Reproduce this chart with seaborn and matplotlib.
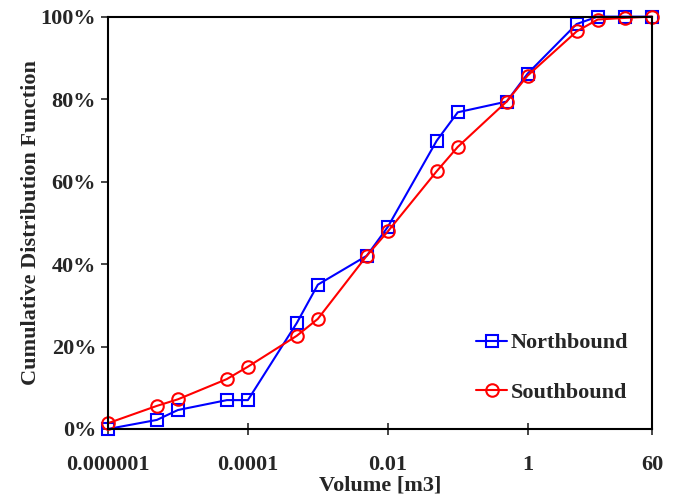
import matplotlib
matplotlib.use("Agg")
import matplotlib.pyplot as plt
import matplotlib.ticker as mticker
import seaborn as sns
import pandas as pd

# volume bins [m3] and cumulative shares (percent)
volume = [1e-6, 5e-6, 1e-5, 5e-5, 1e-4, 5e-4, 1e-3, 5e-3, 0.01, 0.05, 0.1, 0.5, 1, 5, 10, 25, 60]
cdf_north = [0.0, 2.2, 4.6, 7.0, 7.0, 25.7, 35.0, 42.0, 49.0, 69.9, 76.8, 79.4, 86.2, 98.2, 100, 100, 100]
cdf_south = [1.4, 5.6, 7.2, 12.1, 15.1, 22.6, 26.7, 42.0, 47.9, 62.5, 68.4, 79.4, 85.7, 96.4, 99.3, 99.7, 100]

xticks = [1e-6, 1e-4, 1e-2, 1, 60]
xtick_labels = ['0.000001', '0.0001', '0.01', '1', '60']

df = pd.DataFrame({'volume': volume,
                   'Northbound': [v / 100 for v in cdf_north],
                   'Southbound': [v / 100 for v in cdf_south]})

sns.set_style('white')
plt.rcParams['font.family'] = ['Liberation Serif', 'DejaVu Serif']
plt.rcParams['font.weight'] = 'bold'

fig = plt.figure(figsize=(6.75, 4.98), dpi=100)
ax = fig.add_axes([0.160, 0.1386, 0.806, 0.828])

style = dict(markersize=9, markerfacecolor='none', markeredgewidth=1.5,
             linewidth=1.5, clip_on=False)
sns.lineplot(data=df, x='volume', y='Northbound', ax=ax, color='#0000ff',
             marker='s', markeredgecolor='#0000ff', label='Northbound', **style)
sns.lineplot(data=df, x='volume', y='Southbound', ax=ax, color='#ff0000',
             marker='o', markeredgecolor='#ff0000', label='Southbound', **style)

ax.set_xscale('log')
ax.set_xlim(1e-6, 60)
ax.set_ylim(0, 1)
ax.set_xticks(xticks)
ax.set_xticklabels(xtick_labels)
ax.xaxis.set_minor_locator(mticker.NullLocator())
ax.set_yticks([0, 0.2, 0.4, 0.6, 0.8, 1.0])
ax.yaxis.set_major_formatter(mticker.PercentFormatter(xmax=1, decimals=0))

ax.tick_params(axis='x', direction='inout', length=8, width=1.2, labelsize=16, pad=15)
ax.tick_params(axis='y', direction='out', length=5, width=1.2, labelsize=16, left=True)
ax.tick_params(axis='x', bottom=True)

for sp in ax.spines.values():
    sp.set_color('black')
    sp.set_linewidth(1.5)

ax.set_xlabel('Volume [m3]', fontsize=16, fontweight='bold', labelpad=0)
ax.set_ylabel('Cumulative Distribution Function', fontsize=16, fontweight='bold', labelpad=0)

ax.legend(loc='lower left', bbox_to_anchor=(0.64, 0.015), frameon=False,
          fontsize=16, labelspacing=1.3, handlelength=1.4, handletextpad=0.15)

fig.savefig('out.png', dpi=100)
